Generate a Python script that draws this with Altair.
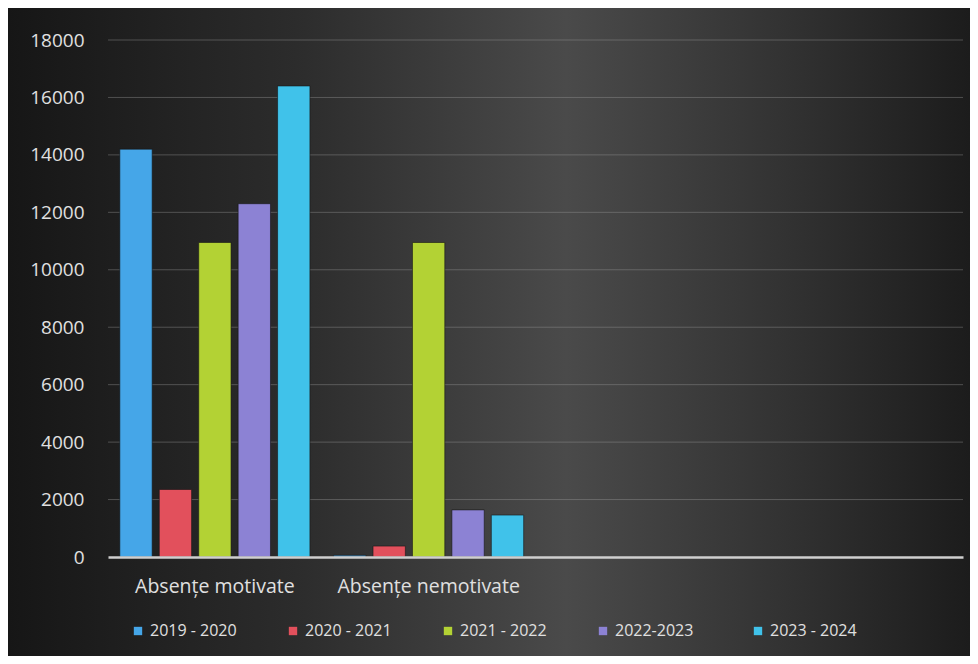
import altair as alt
import pandas as pd

categories = ["Absențe motivate", "Absențe nemotivate"]
slots = ["Absențe motivate", "Absențe nemotivate", "slot3", "slot4"]
seasons = ["2019 - 2020", "2020 - 2021", "2021 - 2022", "2022-2023", "2023 - 2024"]
motivate = [14200, 2350, 10950, 12300, 16400]
nemotivate = [60, 380, 10950, 1640, 1460]
colors = ["#45a6e8", "#e2505c", "#b3d234", "#8c82d4", "#40c2ea"]
y_ticks = list(range(0, 18001, 2000))

rows = []
for s, v in zip(seasons, motivate):
    rows.append({"cat": categories[0], "season": s, "value": v})
for s, v in zip(seasons, nemotivate):
    rows.append({"cat": categories[1], "season": s, "value": v})
df = pd.DataFrame(rows)
grid_df = pd.DataFrame({"value": y_ticks[1:]})

W, H = 855, 517
PL, PT, PR, PB = 100, 32, 7, 99

yscale = alt.Scale(domain=[0, 18000])
yaxis = alt.Axis(title=None, values=y_ticks, ticks=False, zindex=2, format="d",
                 domain=False, grid=False, labelColor="#e0e0e0", labelFontSize=19,
                 labelFont="Open Sans", labelPadding=24)

bg = alt.Chart(pd.DataFrame({"a": [0]})).mark_rect(
    clip=False,
    color=alt.Gradient(
        gradient="linear",
        x1=0, y1=0, x2=1, y2=0,
        stops=[
            alt.GradientStop(offset=0, color="#161616"),
            alt.GradientStop(offset=0.3, color="#2c2c2c"),
            alt.GradientStop(offset=0.58, color="#4a4a4a"),
            alt.GradientStop(offset=0.8, color="#333333"),
            alt.GradientStop(offset=1, color="#1c1c1c"),
        ],
    ),
).encode(
    x=alt.value(-PL), x2=alt.value(W + PR),
    y=alt.value(-PT), y2=alt.value(H + PB),
)

grid = alt.Chart(grid_df).mark_rule(color="#9a9a9a", opacity=0.4, strokeWidth=1).encode(
    y=alt.Y("value:Q", scale=yscale, axis=yaxis),
)

bars = alt.Chart(df).mark_bar(stroke="#151515", strokeWidth=1, strokeOpacity=0.6).encode(
    x=alt.X("cat:N", sort=slots,
            scale=alt.Scale(domain=slots, paddingInner=0, paddingOuter=0),
            axis=alt.Axis(title=None, labelAngle=0, ticks=False, domain=True, zindex=2,
                          domainColor="#cfcfcf", domainWidth=2.5, labelLimit=400,
                          labelColor="#e0e0e0", labelFontSize=19.5, labelPadding=20,
                          labelFont="Open Sans",
                          labelExpr="indexof(['Absențe motivate','Absențe nemotivate'], datum.value) >= 0 ? datum.value : ''")),
    xOffset=alt.XOffset("season:N", sort=seasons,
                        scale=alt.Scale(paddingInner=0.18, paddingOuter=0.3)),
    y=alt.Y("value:Q", scale=yscale, axis=yaxis),
    color=alt.Color("season:N", sort=seasons,
                    scale=alt.Scale(domain=seasons, range=colors),
                    legend=alt.Legend(title=None, orient="none", legendX=22, legendY=583,
                                      direction="horizontal", columns=5, gridAlign="all",
                                      symbolType="square", symbolSize=70,
                                      symbolStrokeWidth=0, labelColor="#e0e0e0",
                                      labelFontSize=16, labelFont="Open Sans",
                                      columnPadding=48, labelOffset=4, zindex=2)),
)

chart = alt.layer(bg, grid, bars).properties(
    width=W, height=H,
    autosize=alt.AutoSizeParams(type="none"),
    padding={"left": PL, "top": PT, "right": PR, "bottom": PB},
    background="#1e1e1e",
).configure_view(stroke=None)

chart.save("out.html", embed_options={"renderer": "svg", "actions": False})
